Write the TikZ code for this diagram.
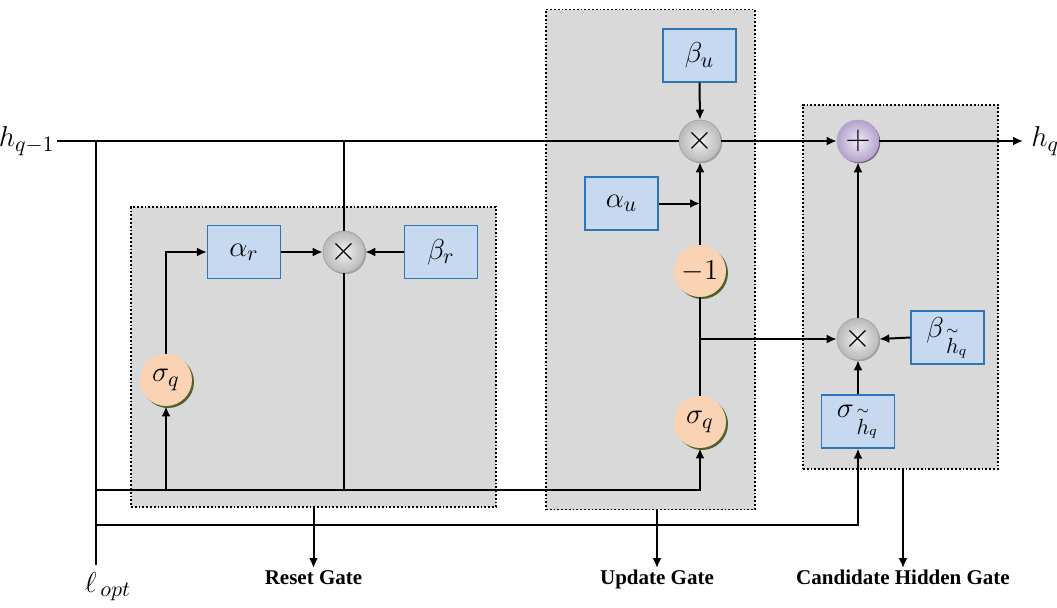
\documentclass[tikz,border=0pt]{standalone}
\usepackage{fontspec}
\newfontfamily\gatefont{Liberation Serif}
\usetikzlibrary{arrows.meta,shadows}
\definecolor{gatebg}{HTML}{D9D9D9}
\definecolor{parfill}{HTML}{C6D9F1}
\definecolor{pardraw}{HTML}{2E75B6}
\definecolor{peach}{HTML}{F9D3B3}
\definecolor{peachshadow}{HTML}{4F6228}
\definecolor{lilac}{HTML}{E6DEF0}
\definecolor{lilacedge}{HTML}{B3A2CC}
\newcommand{\htil}{\stackrel{\scriptscriptstyle\sim}{h}}
\tikzset{
  gatebox/.style={draw=black, densely dotted, line width=0.9pt, fill=gatebg, inner sep=0pt},
  param/.style={draw=pardraw, fill=parfill, line width=0.6pt, minimum width=36.5pt,
    minimum height=26.5pt, inner sep=0pt, font=\fontsize{15}{18}\selectfont},
  opmul/.style={circle, minimum size=21pt, inner sep=0pt, draw=gray!75, line width=0.3pt,
    inner color=gray!12, outer color=gray!55,
    drop shadow={shadow xshift=0.6pt, shadow yshift=-0.6pt, fill=gray!75, opacity=1},
    font=\fontsize{17}{18}\selectfont},
  opadd/.style={opmul, draw=lilacedge, inner color=lilac!60, outer color=lilacedge,
    drop shadow={shadow xshift=0.6pt, shadow yshift=-0.6pt, fill=violet!30!gray, opacity=1}},
  act/.style={circle, fill=peach, minimum size=26pt, inner sep=0pt,
    drop shadow={shadow xshift=1pt, shadow yshift=-1pt, fill=peachshadow, opacity=1},
    font=\fontsize{15}{18}\selectfont},
  sig/.style={font=\fontsize{15}{18}\selectfont, inner sep=4pt},
  gatelabel/.style={font=\gatefont\bfseries\fontsize{10.5}{12}\selectfont, anchor=north, inner sep=1pt},
  wire/.style={line width=1pt},
  flow/.style={wire, -{Latex[length=5pt,width=4.5pt]}}
}
\begin{document}
\begin{tikzpicture}[x=0.5pt, y=-0.5pt]
\useasboundingbox (0,0) rectangle (1057,607);

% gate regions
\node[gatebox, minimum width=182.5pt, minimum height=150pt] (reset) at (313.5,357) {};
\node[gatebox, minimum width=104.5pt, minimum height=250pt] (update) at (650.5,259.5) {};
\node[gatebox, minimum width=97.5pt, minimum height=182pt] (cand) at (900.5,287) {};

% inputs and output
\node[sig, anchor=east, inner sep=1pt] (hprev) at (57,141) {$h_{q-1}$};
\node[sig, anchor=west] (hnext) at (1023,141) {$h_q$};
\node[sig, anchor=north, inner sep=1pt] (lopt) at (108,570) {$\ell_{\,opt}$};

% reset gate
\node[act] (sigr) at (166,380) {$\sigma_q$};
\node[param] (alphar) at (244,252) {$\alpha_r$};
\node[opmul] (mulr) at (344,252) {$\times$};
\node[param] (betar) at (441,252) {$\beta_r$};

% update gate
\node[param] (betau) at (699.5,55.5) {$\beta_u$};
\node[opmul] (mulu) at (700,141) {$\times$};
\node[param] (alphau) at (621.5,203.5) {$\alpha_u$};
\node[act] (negone) at (700,271) {$-1$};
\node[act] (sigu) at (700,422) {$\sigma_q$};

% candidate hidden gate
\node[opadd] (plus) at (858,141) {$+$};
\node[opmul] (mulc) at (858,339) {$\times$};
\node[param] (betac) at (947.5,337.5) {$\beta_{\,\htil_q}$};
\node[param] (sigc) at (858,421.5) {$\sigma_{\,\htil_q}$};

% gate captions
\node[gatelabel] (resetlbl) at (313.5,568) {Reset Gate};
\node[gatelabel] (updatelbl) at (657,568) {Update Gate};
\node[gatelabel] (candlbl) at (903,568) {Candidate Hidden Gate};

% junctions
\coordinate (tap) at (96,141);
\coordinate (tapr) at (344,141);
\coordinate (busA) at (96,490);
\coordinate (busB) at (96,525);
\coordinate (split) at (700,339);

% hidden state path
\draw[wire] (hprev.east) -- (mulu.west);
\draw[flow] (mulu.east) -- (plus.west);
\draw[flow] (plus.east) -- (hnext.west);
\draw[wire] (tap) -- (96,565);
\draw[wire] (tapr) -- (mulr.north);

% input buses
\draw[flow] (busA) -| (sigu.south);
\draw[flow] (busA -| sigr) -- (sigr.south);
\draw[wire] (mulr.south) -- (mulr.south |- busA);
\draw[flow] (busB) -| (sigc.south);

% reset gate wiring
\draw[flow] (sigr.north) |- (alphar.west);
\draw[flow] (alphar.east) -- (mulr.west);
\draw[flow] (betar.west) -- (mulr.east);

% update gate wiring
\draw[flow] (betau.south) -- (mulu.north);
\draw[flow] (negone.north) -- (mulu.south);
\draw[flow] (alphau.east) -- (alphau.east -| mulu);
\draw[wire] (sigu.north) -- (negone.south);
\draw[flow] (split) -- (mulc.west);

% candidate gate wiring
\draw[flow] (sigc.north) -- (mulc.south);
\draw[flow] (betac.west) -- (mulc.east);
\draw[flow] (mulc.north) -- (plus.south);

% gate outputs
\draw[flow] (reset.south) -- (resetlbl.north);
\draw[flow] (update.south -| updatelbl) -- (updatelbl.north);
\draw[flow] (cand.south -| candlbl) -- (candlbl.north);
\end{tikzpicture}
\end{document}
